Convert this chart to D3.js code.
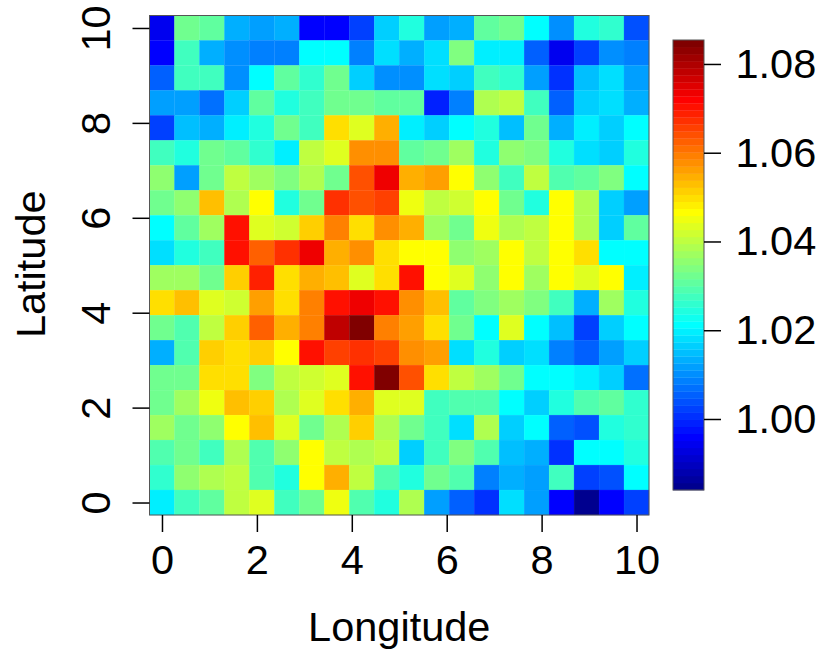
<!DOCTYPE html>
<html>
<head>
<meta charset="utf-8">
<script src="https://cdn.jsdelivr.net/npm/d3@7"></script>
<style>
  html, body { margin: 0; padding: 0; background: #fff; }
  text { font-family: "Liberation Sans", Arial, sans-serif; fill: #000; }
</style>
</head>
<body>
<div id="chart"></div>
<script>
// cell centres, 20 steps from 0 to 10
var longitudes = [0, 0.526, 1.053, 1.579, 2.105, 2.632, 3.158, 3.684, 4.211, 4.737, 5.263, 5.789, 6.316, 6.842, 7.368, 7.895, 8.421, 8.947, 9.474, 10];
var latitudes = [10, 9.474, 8.947, 8.421, 7.895, 7.368, 6.842, 6.316, 5.789, 5.263, 4.737, 4.211, 3.684, 3.158, 2.632, 2.105, 1.579, 1.053, 0.526, 0];

// one row per latitude, top row first
var values = [
  [0.995, 1.032, 1.030, 1.014, 1.012, 1.014, 0.996, 0.996, 1.003, 1.016, 1.025, 1.012, 1.014, 1.030, 1.032, 1.022, 1.010, 1.025, 1.026, 1.004],
  [0.996, 1.028, 1.014, 1.010, 1.009, 1.009, 1.022, 1.022, 1.009, 1.018, 1.013, 1.018, 1.034, 1.019, 1.019, 1.006, 0.995, 1.002, 1.010, 1.008],
  [1.006, 1.027, 1.027, 1.010, 1.022, 1.030, 1.026, 1.033, 1.016, 1.010, 1.010, 1.018, 1.016, 1.027, 1.026, 1.011, 1.000, 1.015, 1.018, 1.011],
  [1.011, 1.011, 1.007, 1.016, 1.030, 1.024, 1.027, 1.033, 1.033, 1.031, 1.030, 0.999, 1.009, 1.038, 1.040, 1.027, 1.005, 1.017, 1.018, 1.014],
  [1.002, 1.015, 1.013, 1.019, 1.024, 1.033, 1.027, 1.049, 1.043, 1.054, 1.019, 1.017, 1.022, 1.025, 1.015, 1.033, 1.013, 1.019, 1.016, 1.022],
  [1.028, 1.024, 1.033, 1.031, 1.026, 1.019, 1.041, 1.044, 1.057, 1.057, 1.030, 1.032, 1.037, 1.024, 1.036, 1.034, 1.025, 1.018, 1.016, 1.024],
  [1.035, 1.012, 1.033, 1.040, 1.037, 1.034, 1.039, 1.032, 1.064, 1.073, 1.054, 1.056, 1.046, 1.036, 1.027, 1.041, 1.029, 1.031, 1.034, 1.022],
  [1.033, 1.036, 1.053, 1.038, 1.046, 1.025, 1.033, 1.067, 1.064, 1.066, 1.045, 1.041, 1.042, 1.047, 1.033, 1.024, 1.047, 1.038, 1.016, 1.012],
  [1.022, 1.031, 1.037, 1.070, 1.044, 1.042, 1.051, 1.059, 1.049, 1.057, 1.054, 1.037, 1.032, 1.045, 1.038, 1.041, 1.046, 1.039, 1.016, 1.030],
  [1.018, 1.024, 1.027, 1.070, 1.063, 1.067, 1.073, 1.055, 1.057, 1.049, 1.047, 1.046, 1.035, 1.037, 1.046, 1.040, 1.046, 1.049, 1.022, 1.022],
  [1.037, 1.037, 1.032, 1.051, 1.069, 1.049, 1.054, 1.053, 1.044, 1.049, 1.070, 1.047, 1.044, 1.035, 1.046, 1.037, 1.046, 1.043, 1.046, 1.020],
  [1.049, 1.053, 1.043, 1.042, 1.056, 1.049, 1.059, 1.071, 1.074, 1.071, 1.057, 1.053, 1.030, 1.034, 1.037, 1.034, 1.028, 1.014, 1.037, 1.024],
  [1.032, 1.029, 1.041, 1.052, 1.062, 1.055, 1.059, 1.079, 1.0854, 1.060, 1.056, 1.049, 1.033, 1.022, 1.044, 1.021, 1.015, 1.002, 1.016, 1.021],
  [1.014, 1.029, 1.052, 1.049, 1.052, 1.047, 1.070, 1.066, 1.067, 1.065, 1.058, 1.056, 1.018, 1.025, 1.017, 1.018, 1.008, 1.005, 1.012, 1.016],
  [1.032, 1.033, 1.050, 1.050, 1.034, 1.040, 1.042, 1.044, 1.070, 1.084, 1.064, 1.049, 1.041, 1.037, 1.033, 1.021, 1.021, 1.019, 1.016, 1.007],
  [1.033, 1.037, 1.045, 1.053, 1.051, 1.038, 1.044, 1.050, 1.054, 1.044, 1.044, 1.027, 1.029, 1.029, 1.022, 1.016, 1.024, 1.029, 1.031, 1.026],
  [1.037, 1.033, 1.036, 1.046, 1.053, 1.044, 1.032, 1.039, 1.052, 1.038, 1.033, 1.027, 1.018, 1.038, 1.017, 1.021, 1.005, 1.004, 1.024, 1.026],
  [1.029, 1.032, 1.027, 1.039, 1.029, 1.035, 1.046, 1.041, 1.038, 1.040, 1.016, 1.027, 1.034, 1.029, 1.015, 1.014, 1.000, 1.021, 1.022, 1.024],
  [1.026, 1.035, 1.038, 1.040, 1.029, 1.025, 1.047, 1.054, 1.041, 1.029, 1.025, 1.033, 1.029, 1.008, 1.013, 1.012, 1.027, 1.002, 1.004, 1.022],
  [1.020, 1.027, 1.030, 1.041, 1.043, 1.028, 1.032, 1.045, 1.029, 1.025, 1.038, 1.012, 1.006, 1.000, 1.018, 1.012, 0.996, 0.984, 0.996, 1.003]
];

var xTicks = [0, 2, 4, 6, 8, 10];
var yTicks = [0, 2, 4, 6, 8, 10];
var barTicks = [1.00, 1.02, 1.04, 1.06, 1.08];
var xTitle = 'Longitude';
var yTitle = 'Latitude';

var WIDTH = 830;
var HEIGHT = 664;
var PLOT = { left: 149.5, right: 649, top: 15.5, bottom: 515 };
var BAR = { left: 673, right: 704, top: 40, bottom: 490 };
var Z_MIN = 0.984;
var Z_MAX = 1.0854;
var HALF_CELL = 0.263;
var TICK = 17;
var FONT = 41.5;

var svg = d3.select('#chart').append('svg')
  .attr('width', WIDTH)
  .attr('height', HEIGHT)
  .style('display', 'block');

// 64 step jet palette, same as tim.colors
function jetColor(i) {
  var clamp = function (v) { return Math.round(255 * Math.max(0, Math.min(1, v))); };
  var r = Math.min((i - 23) / 16, (71 - i) / 16);
  var g = Math.min((i - 7) / 16, (55 - i) / 16);
  var b = Math.min((i + 9) / 16, (39 - i) / 16);
  return d3.rgb(clamp(r), clamp(g), clamp(b)).formatHex();
}
var palette = d3.range(64).map(jetColor);
var color = d3.scaleQuantize().domain([Z_MIN, Z_MAX]).range(palette);

var x = d3.scaleLinear().domain([-HALF_CELL, 10 + HALF_CELL]).range([PLOT.left, PLOT.right]);
var y = d3.scaleLinear().domain([-HALF_CELL, 10 + HALF_CELL]).range([PLOT.bottom, PLOT.top]);
var z = d3.scaleLinear().domain([Z_MIN, Z_MAX]).range([BAR.bottom, BAR.top]);

// heat map cells
values.forEach(function (row, r) {
  svg.append('g').selectAll('rect')
    .data(row)
    .enter().append('rect')
      .attr('x', function (d, c) { return x(longitudes[c] - HALF_CELL); })
      .attr('y', y(latitudes[r] + HALF_CELL))
      .attr('width', function (d, c) { return x(longitudes[c] + HALF_CELL) - x(longitudes[c] - HALF_CELL); })
      .attr('height', y(latitudes[r] - HALF_CELL) - y(latitudes[r] + HALF_CELL))
      .attr('fill', color)
      .attr('stroke', color)
      .attr('stroke-width', 0.3);
});

// box round the map
svg.append('rect')
  .attr('x', PLOT.left)
  .attr('y', PLOT.top)
  .attr('width', PLOT.right - PLOT.left)
  .attr('height', PLOT.bottom - PLOT.top)
  .attr('fill', 'none')
  .attr('stroke', '#555')
  .attr('stroke-width', 1);

// x axis
var xAxis = svg.append('g')
  .attr('transform', 'translate(0,' + PLOT.bottom + ')')
  .call(d3.axisBottom(x).tickValues(xTicks).tickSize(TICK).tickPadding(13));
xAxis.select('.domain').remove();
xAxis.selectAll('line').attr('stroke', '#000').attr('stroke-width', 1.5);
xAxis.selectAll('text').style('font-size', FONT + 'px').attr('font-family', null);

// y axis, labels turned like R does
var yAxis = svg.append('g')
  .attr('transform', 'translate(' + PLOT.left + ',0)')
  .call(d3.axisLeft(y).tickValues(yTicks).tickSize(TICK));
yAxis.select('.domain').remove();
yAxis.selectAll('line').attr('stroke', '#000').attr('stroke-width', 1.5);
yAxis.selectAll('text')
  .style('font-size', FONT + 'px')
  .attr('font-family', null)
  .attr('x', null)
  .attr('dy', null)
  .attr('text-anchor', 'middle')
  .attr('transform', 'translate(-39.5,0) rotate(-90)');

// colour bar
svg.append('g').selectAll('rect')
  .data(palette)
  .enter().append('rect')
    .attr('x', BAR.left)
    .attr('width', BAR.right - BAR.left)
    .attr('y', function (d, i) { return z(color.invertExtent(d)[1]); })
    .attr('height', function (d) { return z(color.invertExtent(d)[0]) - z(color.invertExtent(d)[1]) + 0.3; })
    .attr('fill', function (d) { return d; });

svg.append('rect')
  .attr('x', BAR.left)
  .attr('y', BAR.top)
  .attr('width', BAR.right - BAR.left)
  .attr('height', BAR.bottom - BAR.top)
  .attr('fill', 'none')
  .attr('stroke', '#555')
  .attr('stroke-width', 1);

var barAxis = svg.append('g')
  .attr('transform', 'translate(' + BAR.right + ',0)')
  .call(d3.axisRight(z).tickValues(barTicks).tickFormat(d3.format('.2f')).tickSize(17).tickPadding(14.5));
barAxis.select('.domain').remove();
barAxis.selectAll('line').attr('stroke', '#000').attr('stroke-width', 1.5);
barAxis.selectAll('text').style('font-size', FONT + 'px').attr('font-family', null);

// axis titles
svg.append('text')
  .attr('x', (PLOT.left + PLOT.right) / 2)
  .attr('y', 641)
  .attr('text-anchor', 'middle')
  .style('font-size', FONT + 'px')
  .text(xTitle);

svg.append('text')
  .attr('transform', 'translate(44.5,' + ((PLOT.top + PLOT.bottom) / 2 - 1) + ') rotate(-90)')
  .attr('text-anchor', 'middle')
  .style('font-size', FONT + 'px')
  .text(yTitle);
</script>
</body>
</html>
